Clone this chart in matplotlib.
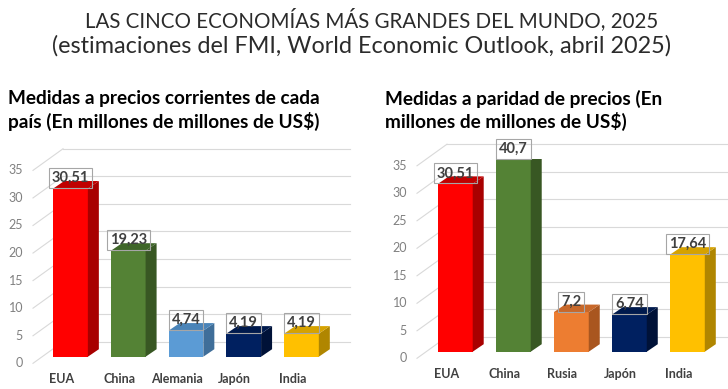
import matplotlib
matplotlib.use("Agg")
import matplotlib.pyplot as plt
from matplotlib.patches import Polygon

plt.rcParams['font.family'] = ['Lato', 'DejaVu Sans']

# data
left_countries = ['EUA', 'China', 'Alemania', 'Japón', 'India']
left_values = [30.51, 19.23, 4.74, 4.19, 4.19]
left_colors = ['#ff0000', '#548235', '#5b9bd5', '#002060', '#ffc000']

right_countries = ['EUA', 'China', 'Rusia', 'Japón', 'India']
right_values = [30.51, 40.7, 7.2, 6.74, 17.64]
right_colors = ['#ff0000', '#548235', '#ed7d31', '#002060', '#ffc000']

y_ticks = [0, 5, 10, 15, 20, 25, 30, 35]
y_max = 35

# darker shades for side / top faces of the 3d-looking bars
side_shade = {'#ff0000': '#a80000', '#548235': '#385723', '#5b9bd5': '#3f6e99',
              '#002060': '#001238', '#ffc000': '#b08600', '#ed7d31': '#a9561f'}
top_shade = {'#ff0000': '#c00000', '#548235': '#3f6629', '#5b9bd5': '#4a84b8',
             '#002060': '#001a4d', '#ffc000': '#d6a200', '#ed7d31': '#c8682a'}


def fmt(v):
    return f'{v:g}'.replace('.', ',')


def draw_chart(fig, rect, xlim, cats, vals, colors):
    ax = fig.add_axes(rect)
    ax.set_xlim(*xlim)
    ax.set_ylim(0, y_max)
    ax.axis('off')

    # pixel -> data conversion for the pseudo depth
    w_px = rect[2] * fig.get_figwidth() * fig.dpi
    h_px = rect[3] * fig.get_figheight() * fig.dpi
    px_x = (xlim[1] - xlim[0]) / w_px
    px_y = y_max / h_px
    dx, dy = 11 * px_x, 7.5 * px_y

    # back wall grid + diagonals, tick labels
    x0, x1 = xlim
    for t in y_ticks:
        ax.plot([x0, x0 + 30 * px_x], [t - 6.6 * px_y, t + 15 * px_y],
                color='#d9d9d9', lw=0.8, clip_on=False, zorder=1)
        ax.plot([x0 + 30 * px_x, x1], [t + 15 * px_y, t + 15 * px_y],
                color='#d9d9d9', lw=0.8, clip_on=False, zorder=1)
        ax.text(x0 - 10 * px_x, t - 6.6 * px_y, str(t), ha='right', va='center',
                fontsize=9, color='#808080')

    width = 0.6
    for i, (c, v, col) in enumerate(zip(cats, vals, colors)):
        h = min(v, y_max)  # bars taller than the axis get cut at the top
        l, r = i - width / 2, i + width / 2
        ax.bar(i, h, width=width, color=col, zorder=3)
        ax.add_patch(Polygon([(r, 0), (r + dx, dy), (r + dx, h + dy), (r, h)],
                             closed=True, fc=side_shade[col], ec='none', zorder=3))
        ax.add_patch(Polygon([(l, h), (r, h), (r + dx, h + dy), (l + dx, h + dy)],
                             closed=True, fc=top_shade[col], ec='none', zorder=3))
        ax.text(i, h + 3.5 * px_y, fmt(v), ha='center', va='bottom', fontsize=10.5,
                fontweight='bold', color='#404040', zorder=5,
                bbox=dict(boxstyle='square,pad=0.2', fc='none', ec='#a6a6a6', lw=0.8))
        ax.text(i - 9 * px_x, -22 * px_y, c, ha='center', va='center', fontsize=9,
                fontweight='bold', color='#404040')
    return ax


fig = plt.figure(figsize=(7.28, 3.89), dpi=100)

fig.text(372 / 728, 1 - 20 / 389, 'LAS CINCO ECONOMÍAS MÁS GRANDES DEL MUNDO, 2025',
         ha='center', va='center', fontsize=14.8, color='#2b2b2b')
fig.text(361 / 728, 1 - 46 / 389, '(estimaciones del FMI, World Economic Outlook, abril 2025)',
         ha='center', va='center', fontsize=16.8, color='#2b2b2b')

fig.text(8 / 728, 1 - 110.5 / 389, 'Medidas a precios corrientes de cada\npaís (En millones de millones de US$)',
         ha='left', va='center', fontsize=13.7, fontweight='bold', linespacing=1.3)
fig.text(385 / 728, 1 - 110.5 / 389, 'Medidas a paridad de precios (En\nmillones de millones de US$)',
         ha='left', va='center', fontsize=13.7, fontweight='bold', linespacing=1.3)

draw_chart(fig, [33 / 728, 0.083, 317 / 728, 0.496], (-0.65, 4.84),
           left_countries, left_values, left_colors)
draw_chart(fig, [417 / 728, 0.0959, 311 / 728, 0.4949], (-0.66, 4.70),
           right_countries, right_values, right_colors)

fig.savefig('out.png', dpi=100)
